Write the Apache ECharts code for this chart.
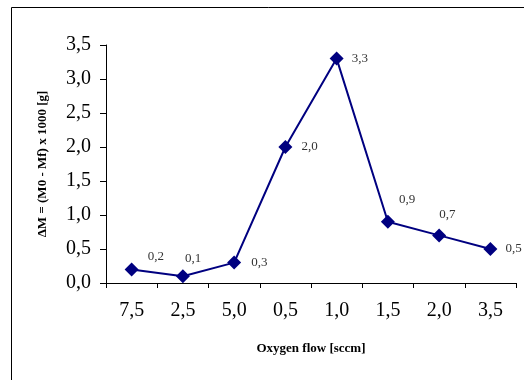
<!DOCTYPE html>
<html>
<head>
<meta charset="utf-8">
<script src="https://cdn.jsdelivr.net/npm/echarts@6/dist/echarts.min.js"></script>
<style>
html,body{margin:0;padding:0;background:#fff;}
#c{width:524px;height:380px;}
</style>
</head>
<body>
<div id="c"></div>
<script>
var categories = ['7,5', '2,5', '5,0', '0,5', '1,0', '1,5', '2,0', '3,5'];
var values = [0.2, 0.1, 0.3, 2.0, 3.3, 0.9, 0.7, 0.5];
var yTicks = [0, 0.5, 1.0, 1.5, 2.0, 2.5, 3.0, 3.5];

// label offsets (style only)
var labelOffsets = [[9,-13],[-5,-18],[10,0],[9,0],[8,0],[4,-22],[-7,-21],[8,0]];

var chart = echarts.init(document.getElementById('c'), null, {renderer:'canvas'});
var fmt = function (v) { return v.toFixed(1).replace('.', ','); };

chart.setOption({
  animation: false,
  backgroundColor: '#fff',
  grid: {left: 106, top: 45, right: 8, bottom: 97, containLabel: false},
  graphic: [{
    type: 'rect',
    shape: {x: 11.5, y: 7.5, width: 700, height: 700},
    style: {fill: 'none', stroke: '#000', lineWidth: 1}
  }],
  xAxis: {
    type: 'category',
    data: categories,
    boundaryGap: true,
    name: 'Oxygen flow [sccm]',
    nameLocation: 'middle',
    nameGap: 59,
    nameTextStyle: {fontFamily: 'Liberation Serif', fontWeight: 'bold', fontSize: 13, color: '#000'},
    axisLine: {lineStyle: {color: '#000', width: 1}},
    axisTick: {show: true, inside: false, length: 5, alignWithLabel: false, lineStyle: {color: '#000'}},
    axisLabel: {fontFamily: 'Liberation Serif', fontSize: 20, color: '#000', margin: 18},
    splitLine: {show: false}
  },
  yAxis: {
    type: 'value',
    min: 0, max: 3.5, interval: 0.5,
    name: 'ΔM = (M0 - Mf) x 1000 [g]',
    nameLocation: 'middle',
    nameGap: 57,
    nameRotate: 90,
    nameTextStyle: {fontFamily: 'Liberation Serif', fontWeight: 'bold', fontSize: 13, color: '#000'},
    axisLine: {show: true, lineStyle: {color: '#000', width: 1}},
    axisTick: {show: true, inside: false, length: 6, lineStyle: {color: '#000'}},
    axisLabel: {fontFamily: 'Liberation Serif', fontSize: 20, color: '#000', margin: 15,
      formatter: function (v) { return yTicks.indexOf(v) >= 0 ? fmt(v) : ''; }},
    splitLine: {show: false}
  },
  series: [{
    type: 'line',
    data: values.map(function (v, i) {
      return {value: v, label: {offset: labelOffsets[i]}};
    }),
    symbol: 'diamond',
    symbolSize: 14,
    lineStyle: {color: '#000080', width: 2},
    itemStyle: {color: '#000080'},
    label: {
      show: true, position: 'right', distance: 0,
      fontFamily: 'Liberation Serif', fontSize: 13, color: '#333',
      formatter: function (p) { return fmt(p.value); }
    }
  }]
});
</script>
</body>
</html>
